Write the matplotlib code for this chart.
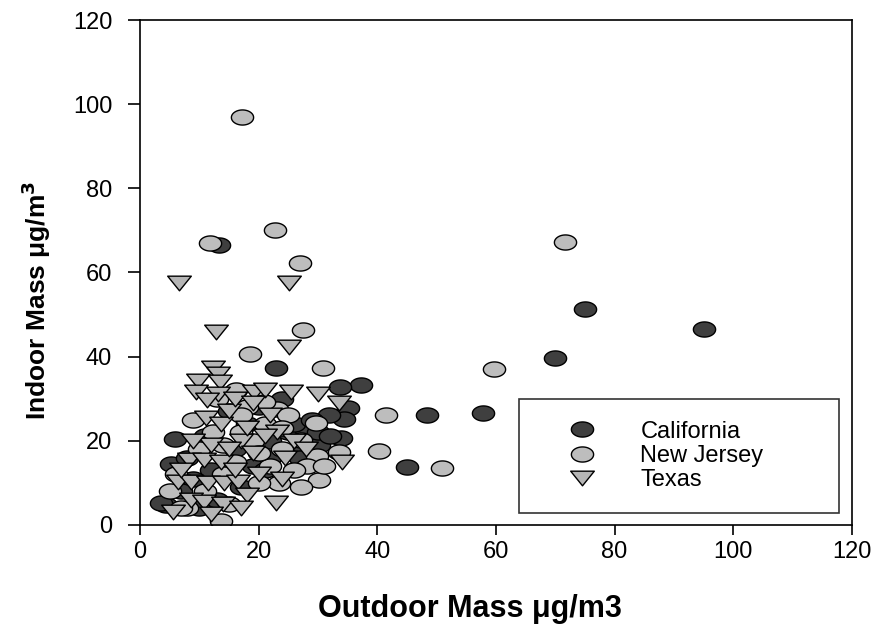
import numpy as np
import matplotlib
matplotlib.use('Agg')
import matplotlib.pyplot as plt
from matplotlib.path import Path

plt.rcParams['font.family'] = ['Liberation Sans', 'DejaVu Sans']

# Outdoor (x) vs indoor (y) mass, ug/m3.
ca_x = [13.3, 95.0, 75.1, 69.9, 57.9, 48.4, 45.1, 23.0, 37.3, 33.8, 35.0, 34.4,
        31.9, 33.9, 30.2, 27.3, 5.9, 5.2, 4.4, 3.5, 25.0, 28.0, 22.0, 20.0,
        18.0, 16.0, 19.0, 12.0, 9.0, 7.0, 10.0, 13.0, 22.0, 26.0, 30.0, 24.0,
        15.0, 27.0, 21.0, 8.0, 11.0, 17.0, 32.0, 29.0]
ca_y = [66.5, 46.6, 51.3, 39.7, 26.5, 26.0, 13.8, 37.2, 33.3, 32.8, 27.8, 25.2,
        26.1, 20.7, 19.0, 19.0, 20.3, 14.4, 4.8, 5.3, 22.0, 22.5, 20.0, 28.0,
        24.0, 18.0, 14.0, 13.0, 11.0, 8.0, 4.0, 6.0, 16.0, 24.0, 22.0, 30.0,
        27.0, 16.0, 13.0, 16.0, 21.0, 9.0, 21.0, 25.0]

nj_x = [17.2, 11.8, 22.8, 27.0, 27.5, 18.6, 30.9, 71.7, 59.7, 41.4, 40.3, 51.0,
        13.7, 16.2, 23.1, 20.9, 29.7, 27.2, 33.6, 29.9, 28.2, 30.2, 27.2, 23.5,
        12.3, 17.0, 5.0, 6.0, 8.0, 10.0, 14.0, 16.0, 19.0, 21.0, 24.0, 25.0,
        20.0, 11.0, 15.0, 18.0, 22.0, 26.0, 9.0, 13.0, 20.0, 31.0, 7.0, 14.0,
        24.0, 17.0]
nj_y = [97.0, 67.0, 70.0, 62.3, 46.3, 40.6, 37.3, 67.3, 37.0, 26.0, 17.6, 13.6,
        0.9, 32.0, 27.5, 29.2, 24.2, 20.2, 17.3, 16.4, 14.0, 10.7, 9.0, 10.0,
        22.0, 22.0, 8.0, 12.0, 4.0, 18.0, 12.0, 15.0, 20.0, 24.0, 18.0, 26.0,
        10.0, 8.0, 5.0, 28.0, 14.0, 13.0, 25.0, 30.0, 17.0, 14.0, 4.0, 19.0,
        23.0, 26.0]

tx_x = [6.6, 25.1, 12.8, 25.1, 12.3, 13.2, 9.8, 13.5, 9.5, 13.2, 11.3, 19.2,
        25.5, 30.0, 33.5, 34.1, 23.0, 11.1, 13.7, 23.1, 24.5, 8.3, 10.8, 13.7,
        6.4, 8.6, 11.5, 14.2, 16.5, 8.6, 10.8, 5.5, 15.0, 17.0, 19.0, 21.0,
        16.0, 18.0, 14.0, 12.0, 9.0, 7.0, 20.0, 22.0, 18.0, 16.0, 21.0, 15.0,
        17.0, 12.0, 19.0, 26.0, 28.0, 24.0]
tx_y = [57.5, 57.5, 45.8, 42.2, 37.2, 35.8, 34.3, 34.0, 31.6, 31.0, 29.7, 31.5,
        31.6, 31.2, 29.0, 15.0, 5.2, 25.4, 24.0, 22.0, 16.0, 15.4, 15.4, 15.0,
        10.2, 10.2, 9.9, 9.9, 10.2, 5.9, 5.5, 3.0, 27.0, 20.0, 17.0, 21.0,
        13.0, 7.0, 5.0, 19.0, 20.0, 13.0, 12.0, 26.0, 23.0, 30.0, 32.0, 18.0,
        4.0, 2.5, 29.0, 20.0, 18.0, 11.0]

# Squashed markers: ellipse and down-pointing triangle.
t = np.linspace(0, 2 * np.pi, 60)
ellipse = Path(np.column_stack([np.cos(t), 0.68 * np.sin(t)]), closed=True)
tri = Path([(-1, 0.62), (1, 0.62), (0, -0.62), (-1, 0.62)], closed=True)

fig = plt.figure(figsize=(8.8, 6.3), dpi=100)
ax = fig.add_axes([0.159, 0.167, 0.809, 0.801])

kw = dict(linestyle='none', markeredgecolor='black', markeredgewidth=1.0)
ax.plot(ca_x, ca_y, marker=ellipse, markersize=16, markerfacecolor='#3f3f3f',
        label='California', **kw)
ax.plot(nj_x, nj_y, marker=ellipse, markersize=16, markerfacecolor='#bdbdbd',
        label='New Jersey', **kw)
ax.plot(tx_x, tx_y, marker=tri, markersize=17, markerfacecolor='#b5b5b5',
        label='Texas', **kw)

ax.set_xlim(0, 120)
ax.set_ylim(0, 120)
ax.set_xticks(range(0, 121, 20))
ax.set_yticks(range(0, 121, 20))
ax.tick_params(direction='out', width=1.2, labelsize=17,
               top=False, right=False)
ax.tick_params(axis='y', length=9, pad=11)
ax.tick_params(axis='x', length=7.5, pad=4)
for s in ax.spines.values():
    s.set_linewidth(1.2)

ax.set_xlabel('Outdoor Mass μg/m3', fontsize=22, fontweight='bold')
ax.set_ylabel('Indoor Mass μg/m$^\\mathbf{3}$', fontsize=19,
              fontweight='bold')
ax.xaxis.set_label_coords(0.463, -0.138)
ax.yaxis.set_label_coords(-0.122, 0.444)

leg = ax.legend(loc='lower left', bbox_to_anchor=(0.533, 0.024, 0.449, 0.227),
                mode='expand', fontsize=17, frameon=True, fancybox=False,
                edgecolor='black', borderpad=0.9, labelspacing=0.1,
                handletextpad=0.72, borderaxespad=0, handlelength=3.5,
                numpoints=1)
leg.get_frame().set_linewidth(1.2)

plt.savefig('out.png', dpi=100)
